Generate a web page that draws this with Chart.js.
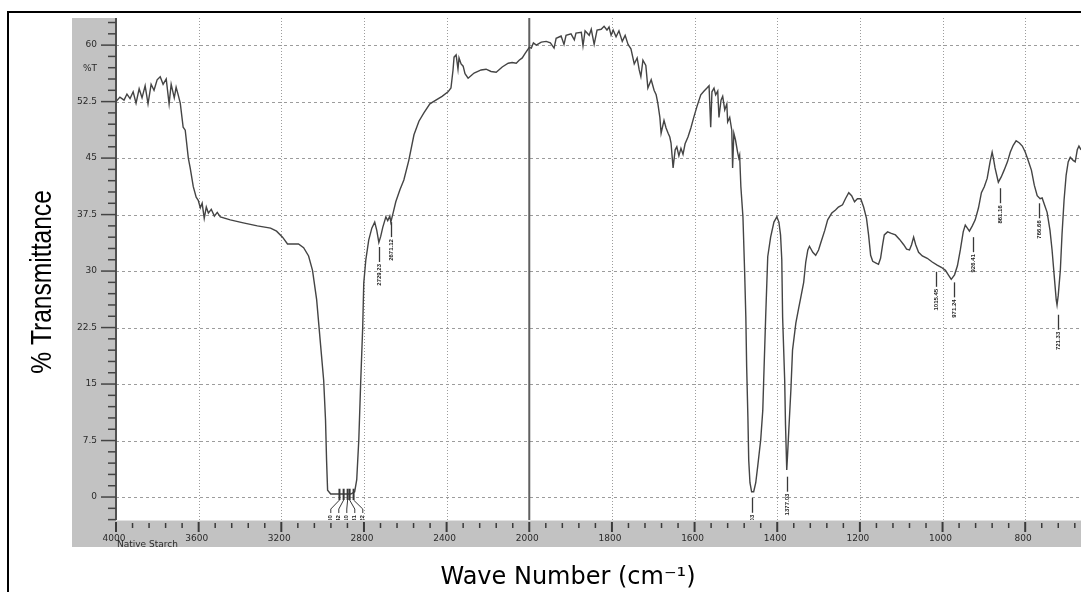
<!DOCTYPE html>
<html>
<head>
<meta charset="utf-8">
<script src="https://cdn.jsdelivr.net/npm/chart.js@4.4.1/dist/chart.umd.min.js"></script>
<style>
  html, body { margin: 0; padding: 0; background: #fff; }
  canvas { display: block; }
</style>
</head>
<body>
<canvas id="spectrum" width="1081" height="592"></canvas>
<script>
// wavenumbers (cm-1) and %T, high to low
const waveNumbers = [
  4000, 3981, 3961, 3947, 3932, 3917, 3903, 3888, 3874, 3859, 3845, 3830, 3816, 3801, 3786, 3772,
  3757, 3743, 3733, 3718, 3709, 3699, 3689, 3675, 3665, 3650, 3641, 3626, 3612, 3602, 3592, 3583,
  3573, 3563, 3553, 3539, 3524, 3510, 3495, 3447, 3384, 3316, 3252, 3223, 3194, 3170, 3146, 3117,
  3092, 3068, 3049, 3029, 3010, 2995, 2986, 2981, 2976, 2961, 2913, 2864, 2845, 2835, 2825, 2816,
  2806, 2801, 2791, 2777, 2762, 2748, 2738, 2728, 2719, 2709, 2694, 2685, 2675, 2670, 2660, 2646,
  2626, 2607, 2583, 2558, 2534, 2510, 2481, 2452, 2422, 2393, 2379, 2369, 2364, 2354, 2345, 2340,
  2330, 2320, 2311, 2296, 2267, 2233, 2209, 2185, 2160, 2131, 2102, 2083, 2063, 2049, 2034, 2020,
  2000, 1995, 1990, 1983, 1971, 1959, 1949, 1940, 1935, 1923, 1916, 1911, 1899, 1891, 1887, 1874,
  1870, 1865, 1855, 1850, 1843, 1836, 1826, 1819, 1812, 1807, 1802, 1797, 1790, 1783, 1775, 1768,
  1761, 1754, 1746, 1739, 1734, 1730, 1725, 1718, 1713, 1705, 1698, 1693, 1689, 1684, 1681, 1674,
  1669, 1664, 1660, 1657, 1652, 1647, 1643, 1638, 1633, 1628, 1623, 1616, 1609, 1602, 1594, 1585,
  1577, 1570, 1565, 1561, 1558, 1553, 1549, 1544, 1541, 1536, 1532, 1527, 1522, 1520, 1515, 1510,
  1508, 1505, 1501, 1496, 1493, 1491, 1488, 1483, 1479, 1476, 1474, 1471, 1469, 1466, 1462, 1457,
  1452, 1447, 1440, 1435, 1433, 1428, 1423, 1416, 1408, 1401, 1396, 1392, 1389, 1387, 1382, 1380,
  1377, 1375, 1372, 1367, 1363, 1355, 1348, 1343, 1336, 1331, 1326, 1322, 1314, 1307, 1300, 1295,
  1285, 1278, 1268, 1259, 1252, 1242, 1235, 1227, 1220, 1213, 1206, 1198, 1191, 1184, 1179, 1174,
  1169, 1162, 1155, 1150, 1145, 1141, 1133, 1124, 1114, 1104, 1094, 1087, 1080, 1075, 1070, 1065,
  1058, 1049, 1037, 1025, 1013, 1003, 993, 986, 979, 971, 964, 957, 950, 945, 940, 935,
  928, 921, 913, 906, 899, 892, 885, 880, 877, 873, 865, 858, 851, 843, 836, 829,
  822, 814, 807, 800, 793, 785, 778, 771, 764, 759, 754, 747, 740, 735, 730, 725,
  723, 720, 715, 711, 706, 701, 696, 691, 684, 679, 674, 670, 665,
];
const transmittance = [
  52.5, 53.1, 52.7, 53.5, 52.9, 53.8, 52.3, 54.2, 53.0, 54.6, 52.2, 54.8, 54.0, 55.4, 55.8, 54.8,
  55.5, 52.2, 54.8, 53.0, 54.4, 53.4, 52.3, 49.1, 48.7, 45.0, 43.7, 41.2, 39.8, 39.4, 38.4, 39.0,
  37.0, 38.5, 37.7, 38.2, 37.3, 37.8, 37.2, 36.8, 36.4, 36.0, 35.7, 35.3, 34.5, 33.6, 33.6, 33.6,
  33.1, 32.0, 30.1, 26.2, 20.2, 15.5, 10.2, 4.9, 0.9, 0.4, 0.4, 0.4, 0.7, 2.3, 7.6, 15.1,
  22.6, 28.4, 31.5, 34.1, 35.7, 36.5, 35.4, 33.8, 34.6, 35.8, 37.2, 36.7, 37.3, 36.5, 37.6, 39.2,
  40.8, 42.1, 44.7, 48.1, 49.9, 51.0, 52.2, 52.7, 53.2, 53.8, 54.3, 56.7, 58.4, 58.7, 56.8, 58.3,
  57.5, 57.2, 56.2, 55.6, 56.3, 56.7, 56.8, 56.5, 56.4, 57.1, 57.6, 57.7, 57.6, 58.0, 58.3, 58.9,
  59.7, 59.6, 60.3, 60.0, 60.4, 60.5, 60.3, 59.6, 60.9, 61.2, 60.1, 61.3, 61.5, 60.7, 61.6, 61.7,
  59.9, 61.9, 61.3, 62.1, 60.1, 62.0, 62.1, 62.5, 62.0, 62.4, 61.3, 62.0, 61.1, 61.9, 60.5, 61.3,
  60.1, 59.5, 57.5, 58.3, 56.7, 55.8, 58.0, 57.3, 54.3, 55.4, 54.0, 53.4, 52.3, 50.4, 48.3, 50.0,
  49.0, 48.3, 47.8, 47.0, 43.7, 46.1, 46.5, 45.3, 46.3, 45.5, 46.9, 47.8, 49.0, 50.4, 51.9, 53.4,
  53.9, 54.3, 54.6, 49.1, 53.8, 54.3, 53.4, 53.9, 50.4, 52.7, 53.2, 51.4, 52.2, 49.8, 50.4, 48.7,
  43.7, 48.3, 47.4, 45.8, 45.0, 45.4, 41.2, 37.2, 30.1, 23.9, 17.3, 10.6, 4.9, 1.9, 0.7, 0.7,
  1.9, 4.2, 7.6, 11.5, 15.1, 23.9, 31.9, 34.5, 36.5, 37.2, 36.5, 34.8, 31.5, 23.9, 15.5, 9.6,
  3.6, 5.6, 8.9, 14.2, 19.5, 23.1, 25.1, 26.5, 28.5, 31.2, 32.8, 33.3, 32.5, 32.1, 32.8, 33.7,
  35.4, 36.8, 37.7, 38.1, 38.5, 38.8, 39.6, 40.4, 40.0, 39.2, 39.6, 39.6, 38.5, 37.0, 34.8, 32.1,
  31.3, 31.1, 30.9, 31.7, 33.5, 34.8, 35.2, 35.0, 34.8, 34.2, 33.5, 32.9, 32.8, 33.5, 34.5, 33.5,
  32.5, 32.0, 31.7, 31.2, 30.8, 30.5, 30.1, 29.5, 28.9, 29.5, 30.7, 32.8, 35.2, 36.1, 35.7, 35.3,
  36.0, 36.8, 38.4, 40.4, 41.2, 42.3, 44.5, 45.8, 45.0, 43.7, 41.8, 42.5, 43.4, 44.5, 45.8, 46.7,
  47.3, 47.0, 46.6, 45.8, 44.7, 43.4, 41.4, 40.0, 39.6, 39.7, 38.9, 37.8, 35.4, 32.8, 29.5, 26.2,
  25.5, 26.8, 30.1, 34.8, 39.4, 42.7, 44.5, 45.1, 44.7, 44.5, 46.1, 46.6, 46.1,
];

const xTickValues = [4000, 3600, 3200, 2800, 2400, 2000, 1800, 1600, 1400, 1200, 1000, 800];
const yTickValues = [0, 7.5, 15, 22.5, 30, 37.5, 45, 52.5, 60];
const yTickLabels = ['0', '7.5', '15', '22.5', '30', '37.5', '45', '52.5', '60'];

// peak picks: where they sit, what they say, %T at the top of the leader
const peakWaveNumbers = [2729.23, 2671.12, 1462.03, 1377.03, 1015.45, 971.24, 926.41, 861.16, 766.66, 721.33];
const peakLabels = ['2729.23', '2671.12', '1462.03', '1377.03', '1015.45', '971.24', '926.41', '861.16', '766.66', '721.33'];
const peakTops = [33.2, 36.5, -0.1, 2.7, 29.9, 28.5, 34.5, 41.0, 39.0, 24.2];

// the C-H pile-up on the saturated band, labels run off the bottom
const clusterWaveNumbers = [2918.6, 2898.4, 2879.1, 2869.3, 2850.2];
const clusterLabels = ['2918.60', '2898.42', '2879.10', '2869.31', '2850.22'];

const xLimit = 665;
const yMin = -3.05;
const yMax = 63.6;

// the instrument doubles the scale below 2000 cm-1
const axisPos = (wn) => (wn >= 2000 ? (4000 - wn) / 400 : 5 + (2000 - wn) / 200);

const points = waveNumbers.map((wn, i) => ({ x: axisPos(wn), y: transmittance[i] }));

const crisp = (v) => Math.round(v) + 0.5;

const irPlot = {
  id: 'irPlot',
  beforeDraw(chart) {
    const { ctx, chartArea: area, scales: { x, y } } = chart;
    const W = chart.width;
    const H = chart.height;

    ctx.save();
    ctx.fillStyle = '#fff';
    ctx.fillRect(0, 0, W, H);

    // outer frame
    ctx.strokeStyle = '#000';
    ctx.lineWidth = 2;
    ctx.beginPath();
    ctx.moveTo(8, H);
    ctx.lineTo(8, 12);
    ctx.lineTo(W, 12);
    ctx.stroke();

    // grey axis panels
    ctx.fillStyle = '#c2c2c2';
    ctx.fillRect(72, area.top, area.left - 72, area.bottom + 27 - area.top);
    ctx.fillRect(72, area.bottom, W - 72, 27);
    ctx.fillStyle = '#e2e2e2';
    ctx.fillRect(area.left, area.bottom, W - area.left, 1);

    // horizontal dashed grid
    ctx.strokeStyle = '#9c9c9c';
    ctx.lineWidth = 1;
    ctx.setLineDash([3, 3]);
    yTickValues.forEach((v) => {
      const py = crisp(y.getPixelForValue(v));
      ctx.beginPath();
      ctx.moveTo(area.left, py);
      ctx.lineTo(area.right, py);
      ctx.stroke();
    });

    // vertical dotted grid
    ctx.setLineDash([1, 2]);
    xTickValues.forEach((wn) => {
      if (wn === 4000 || wn === 2000) return;
      const px = crisp(x.getPixelForValue(axisPos(wn)));
      ctx.beginPath();
      ctx.moveTo(px, area.top);
      ctx.lineTo(px, area.bottom);
      ctx.stroke();
    });
    ctx.setLineDash([]);

    // scale change marker at 2000
    const p2000 = x.getPixelForValue(axisPos(2000));
    ctx.strokeStyle = '#606060';
    ctx.lineWidth = 2;
    ctx.beginPath();
    ctx.moveTo(p2000, area.top);
    ctx.lineTo(p2000, area.bottom);
    ctx.stroke();

    // y axis line
    ctx.strokeStyle = '#505050';
    ctx.beginPath();
    ctx.moveTo(area.left, area.top);
    ctx.lineTo(area.left, area.bottom);
    ctx.stroke();

    // y ticks
    ctx.strokeStyle = '#444';
    ctx.lineWidth = 1.5;
    for (let v = -3; v <= 63.1; v += 1.5) {
      const major = yTickValues.some((t) => Math.abs(t - v) < 0.01);
      const py = y.getPixelForValue(v);
      ctx.beginPath();
      ctx.moveTo(area.left - (major ? 15 : 8), py);
      ctx.lineTo(area.left, py);
      ctx.stroke();
    }

    ctx.fillStyle = '#2a2a2a';
    ctx.font = '9px "DejaVu Sans", sans-serif';
    ctx.textAlign = 'right';
    ctx.textBaseline = 'middle';
    yTickValues.forEach((v, i) => {
      ctx.fillText(yTickLabels[i], area.left - 19, y.getPixelForValue(v));
    });
    ctx.fillText('%T', area.left - 19, y.getPixelForValue(56.9));

    // x ticks in the bottom band
    ctx.strokeStyle = '#3a3a3a';
    const xMinor = [];
    for (let wn = 4000; wn >= 2000; wn -= 80) xMinor.push(wn);
    for (let wn = 1960; wn >= xLimit; wn -= 40) xMinor.push(wn);
    xMinor.forEach((wn) => {
      const major = xTickValues.includes(wn);
      const px = x.getPixelForValue(axisPos(wn));
      ctx.lineWidth = major ? 2 : 1.5;
      ctx.beginPath();
      ctx.moveTo(px, area.bottom + (major ? 2 : 3));
      ctx.lineTo(px, area.bottom + (major ? 12 : 8));
      ctx.stroke();
    });

    ctx.textAlign = 'center';
    ctx.textBaseline = 'alphabetic';
    xTickValues.forEach((wn) => {
      ctx.fillText(String(wn), x.getPixelForValue(axisPos(wn)) - 2, area.bottom + 21);
    });
    ctx.textAlign = 'left';
    ctx.fillText('Native Starch', area.left + 1, area.bottom + 27);

    // axis titles
    ctx.fillStyle = '#000';
    ctx.save();
    ctx.translate(51, 282);
    ctx.rotate(-Math.PI / 2);
    ctx.scale(0.82, 1);
    ctx.font = '30px "Liberation Sans", Arial, sans-serif';
    ctx.textAlign = 'center';
    ctx.textBaseline = 'alphabetic';
    ctx.fillText('% Transmittance', 0, 0);
    ctx.restore();

    ctx.font = '24px "DejaVu Sans", Verdana, sans-serif';
    ctx.textAlign = 'center';
    ctx.textBaseline = 'alphabetic';
    ctx.fillText('Wave Number (cm\u207B\u00B9)', 568, 584);

    ctx.restore();
  },
  afterDatasetsDraw(chart) {
    const { ctx, chartArea: area, scales: { x, y } } = chart;
    ctx.save();
    ctx.beginPath();
    ctx.rect(area.left, area.top, area.right - area.left, area.bottom - area.top);
    ctx.clip();

    ctx.strokeStyle = '#383838';
    ctx.fillStyle = '#1a1a1a';
    ctx.lineWidth = 1.3;
    ctx.font = 'bold 6px "Liberation Sans", Arial, sans-serif';

    const drawLabel = (px, top, text) => {
      ctx.save();
      ctx.translate(px, top);
      ctx.rotate(-Math.PI / 2);
      ctx.textAlign = 'right';
      ctx.textBaseline = 'middle';
      ctx.fillText(text, 0, 0);
      ctx.restore();
    };

    peakWaveNumbers.forEach((wn, i) => {
      const px = crisp(x.getPixelForValue(axisPos(wn)));
      const top = y.getPixelForValue(peakTops[i]);
      ctx.beginPath();
      ctx.moveTo(px, top);
      ctx.lineTo(px, top + 15);
      ctx.stroke();
      drawLabel(px, top + 17, peakLabels[i]);
    });

    // fanned leaders for the saturated band picks
    const barXs = clusterWaveNumbers.map((wn) => x.getPixelForValue(axisPos(wn)));
    const mid = barXs.reduce((a, b) => a + b, 0) / barXs.length;
    const barTop = y.getPixelForValue(1.1);
    const barBottom = y.getPixelForValue(-0.4);
    barXs.forEach((bx, i) => {
      const tx = mid + (i - (barXs.length - 1) / 2) * 8;
      ctx.lineWidth = 2;
      ctx.beginPath();
      ctx.moveTo(bx, barTop);
      ctx.lineTo(bx, barBottom);
      ctx.stroke();
      ctx.lineWidth = 1;
      ctx.beginPath();
      ctx.moveTo(bx, barBottom);
      ctx.lineTo(tx, barBottom + 9);
      ctx.lineTo(tx, barBottom + 13);
      ctx.stroke();
      drawLabel(tx, barBottom + 15, clusterLabels[i]);
    });
    ctx.restore();
  },
};

new Chart(document.getElementById('spectrum'), {
  type: 'line',
  data: {
    datasets: [{
      data: points,
      borderColor: '#444',
      borderWidth: 1.4,
      pointRadius: 0,
      tension: 0,
      fill: false,
    }],
  },
  options: {
    responsive: false,
    animation: false,
    devicePixelRatio: 1,
    layout: { padding: { left: 116, top: 18, right: 0, bottom: 72 } },
    plugins: {
      legend: { display: false },
      tooltip: { enabled: false },
    },
    scales: {
      x: { type: 'linear', display: false, min: 0, max: axisPos(xLimit) },
      y: { type: 'linear', display: false, min: yMin, max: yMax },
    },
  },
  plugins: [irPlot],
});
</script>
</body>
</html>
